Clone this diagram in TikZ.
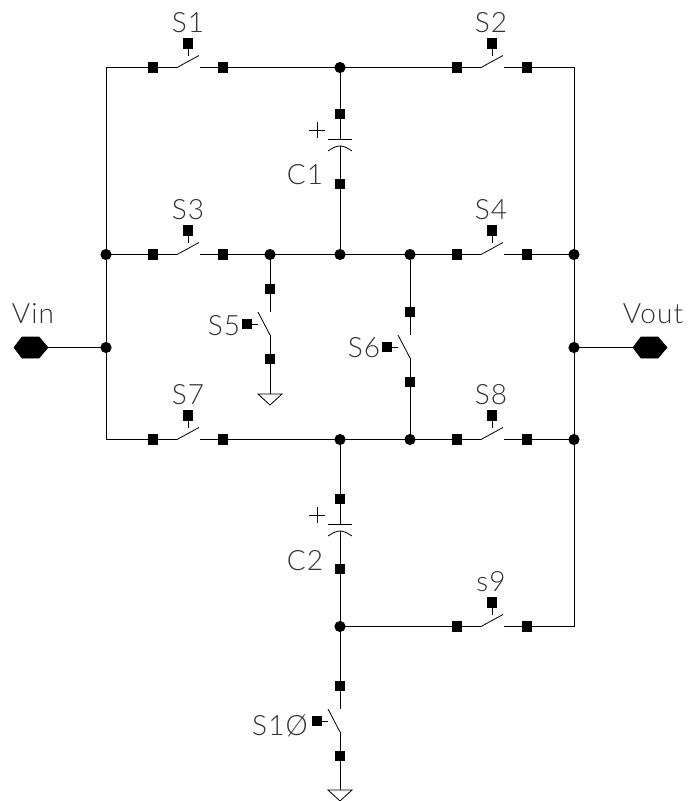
\documentclass[tikz,border=0pt]{standalone}
\usepackage{fontspec}
\setmainfont{Lato Light}[LetterSpace=4]
\usetikzlibrary{calc}
\tikzset{
  x=0.75pt,y=-0.75pt,
  wire/.style={draw=black,line width=0.72pt,line cap=butt},
  thinwire/.style={draw=black,line width=0.6pt},
  pin/.style={fill=black,draw=none,minimum size=8.2pt,inner sep=0pt,outer sep=0pt,rectangle},
  junction/.style={fill=black,draw=none,circle,minimum size=8.4pt,inner sep=0pt,outer sep=0pt},
  lab/.style={inner sep=0pt,outer sep=0pt,text=black!80,font=\fontsize{21}{21}\selectfont},
  gndshape/.style={draw=black,line width=0.6pt,fill=white,line join=miter},
  port/.style={fill=black,draw=black,line width=0.5pt,line join=round}
}
% horizontal switch: name, left-pin x, y
\newcommand{\hsw}[3]{%
  \node[pin] (#1L) at (#2,#3) {};
  \node[pin] (#1R) at (#2+70,#3) {};
  \node[pin] (#1C) at (#2+35,#3-24) {};
  \coordinate (#1H) at (#2+24,#3);
  \coordinate (#1T) at (#2+46,#3-12);
  \coordinate (#1W) at (#2+47,#3);
  \coordinate (#1S) at (#2+35,#3-12);
  \draw[wire] (#1L.center) -- (#1H);
  \draw[thinwire] (#1H) -- (#1T);
  \draw[wire] (#1W) -- (#1R.center);
  \draw[thinwire] (#1C.center) -- (#1S);
}
% vertical switch: name, x, top-pin y
\newcommand{\vsw}[3]{%
  \node[pin] (#1A) at (#2,#3) {};
  \node[pin] (#1B) at (#2,#3+70) {};
  \node[pin] (#1C) at (#2-23,#3+35) {};
  \coordinate (#1W) at (#2,#3+23);
  \coordinate (#1T) at (#2-12,#3+23);
  \coordinate (#1H) at (#2,#3+46);
  \coordinate (#1S) at (#2-12,#3+35);
  \draw[wire] (#1A.center) -- (#1W);
  \draw[thinwire] (#1T) -- (#1H);
  \draw[wire] (#1H) -- (#1B.center);
  \draw[thinwire] (#1C.center) -- (#1S);
}
% capacitor: name, x, top-pin y
\newcommand{\capa}[3]{%
  \node[pin] (#1A) at (#2,#3) {};
  \node[pin] (#1B) at (#2,#3+70) {};
  \coordinate (#1P) at (#2,#3+25);
  \coordinate (#1Q) at (#2,#3+32);
  \draw[wire] (#1A.center) -- (#1P);
  \draw[wire] (#1Q) -- (#1B.center);
  \draw[thinwire] (#2-12,#3+25) -- (#2+12,#3+25);
  \draw[thinwire] (#2-12,#3+37) .. controls (#2-6,#3+33) and (#2-3,#3+32) .. (#1Q)
     .. controls (#2+3,#3+32) and (#2+6,#3+33) .. (#2+12,#3+37);
  \draw[thinwire] (#2-31,#3+16) -- (#2-15,#3+16);
  \draw[thinwire] (#2-23,#3+8) -- (#2-23,#3+24);
}
% ground: name, x, top y
\newcommand{\gnd}[3]{%
  \coordinate (#1) at (#2,#3);
  \draw[gndshape] (#2-12,#3) -- (#2+12,#3) -- (#2,#3+11) -- cycle;
}
% port: name, centre x, y
\newcommand{\hexport}[3]{%
  \coordinate (#1) at (#2,#3);
  \draw[port] (#2-17,#3) -- (#2-9,#3-10.5) -- (#2+8,#3-10.5) -- (#2+17,#3) -- (#2+8,#3+10.5) -- (#2-9,#3+10.5) -- cycle;
}
\begin{document}
\begin{tikzpicture}
\useasboundingbox (0,0) rectangle (689,801);

% junctions
\node[junction] (ja) at (340,67.5) {};
\node[junction] (jb) at (106,254.5) {};
\node[junction] (jc) at (270,254.5) {};
\node[junction] (jd) at (340,254.5) {};
\node[junction] (je) at (410,254.5) {};
\node[junction] (jf) at (574,254.5) {};
\node[junction] (jg) at (106,347.5) {};
\node[junction] (jh) at (574,347.5) {};
\node[junction] (ji) at (340,439.5) {};
\node[junction] (jj) at (410,439.5) {};
\node[junction] (jk) at (574,439.5) {};
\node[junction] (jl) at (340,626.5) {};
\coordinate (tl) at (106,67.5);
\coordinate (tr) at (574,67.5);
\coordinate (bl) at (106,439.5);
\coordinate (br) at (574,626.5);

% switches
\hsw{sa}{153}{67.5}
\hsw{sb}{457}{67.5}
\hsw{sc}{153}{254.5}
\hsw{sd}{457}{254.5}
\hsw{sg}{153}{439.5}
\hsw{sh}{457}{439.5}
\hsw{si}{457}{626.5}
\vsw{se}{270}{289}
\vsw{sf}{410}{312}
\vsw{sj}{340}{686}

% capacitors
\capa{ca}{340}{114}
\capa{cb}{340}{499}

% grounds and ports
\gnd{ga}{270}{394}
\gnd{gb}{340}{790}
\hexport{pin}{31}{347.5}
\hexport{pout}{650}{347.5}

% connectors
\draw[wire] (saL.center) -- (tl) -- (bl) -- (sgL.center);
\draw[wire] (saR.center) -- (ja.center) -- (sbL.center);
\draw[wire] (sbR.center) -- (tr) -- (br) -- (siR.center);
\draw[wire] (ja.center) -- (caA.center);
\draw[wire] (caB.center) -- (jd.center);
\draw[wire] (jb.center) -- (scL.center);
\draw[wire] (scR.center) -- (jc.center) -- (jd.center) -- (je.center) -- (sdL.center);
\draw[wire] (sdR.center) -- (jf.center);
\draw[wire] (jc.center) -- (seA.center);
\draw[wire] (seB.center) -- (ga);
\draw[wire] (je.center) -- (sfA.center);
\draw[wire] (sfB.center) -- (jj.center);
\draw[wire] (sgR.center) -- (ji.center) -- (jj.center) -- (shL.center);
\draw[wire] (shR.center) -- (jk.center);
\draw[wire] (ji.center) -- (cbA.center);
\draw[wire] (cbB.center) -- (jl.center);
\draw[wire] (jl.center) -- (siL.center);
\draw[wire] (jl.center) -- (sjA.center);
\draw[wire] (sjB.center) -- (gb);
\draw[wire] (pin) -- (jg.center);
\draw[wire] (jh.center) -- (pout);

% labels
\node[lab] (l1) at (188,23) {S1};
\node[lab] (l2) at (491,23) {S2};
\node[lab] (l3) at (188,210) {S3};
\node[lab] (l4) at (491,210) {S4};
\node[lab] (l5) at (224,326) {S5};
\node[lab] (l6) at (364,348) {S6};
\node[lab] (l7) at (188,395) {S7};
\node[lab] (l8) at (491,395) {S8};
\node[lab] (l9) at (491,582) {s9};
\node[lab] (l10) at (280,726) {S1Ø};
\node[lab] (lc1) at (305,175) {C1};
\node[lab] (lc2) at (305,561) {C2};
\node[lab] (lin) at (33,314) {Vin};
\node[lab] (lout) at (653,314) {Vout};
\end{tikzpicture}
\end{document}
